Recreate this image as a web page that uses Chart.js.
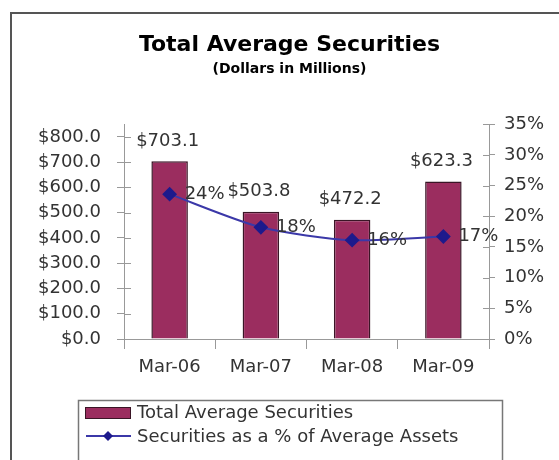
<!DOCTYPE html>
<html>
<head>
<meta charset="utf-8">
<script src="https://cdn.jsdelivr.net/npm/chart.js@4.4.1/dist/chart.umd.min.js"></script>
<style>
  html, body { margin: 0; padding: 0; background: #fff; overflow: hidden; }
  #wrap { position: relative; width: 559px; height: 460px; }
  #frame { position: absolute; left: 10px; top: 12px; width: 620px; height: 520px; border: 2px solid #555; }
  #chart { position: absolute; left: 0; top: 0; }
</style>
</head>
<body>
<div id="wrap">
  <div id="frame"></div>
  <canvas id="chart" width="559" height="460"></canvas>
</div>
<script>
// data
const categories = ['Mar-06', 'Mar-07', 'Mar-08', 'Mar-09'];
const securities = [703.1, 503.8, 472.2, 623.3];      // $ millions
const pctOfAssets = [23.6, 18.2, 16.1, 16.7];         // % of average assets
const dollarTicks = [0, 100, 200, 300, 400, 500, 600, 700, 800];
const pctTicks = [0, 5, 10, 15, 20, 25, 30, 35];

const FONT = '"DejaVu Sans", "Liberation Sans", Arial, sans-serif';
const TEXT = '#333';
const AXIS = '#999';
const BAR_FILL = '#9b2d5f';
const BAR_EDGE = '#3a1526';
const LINE = '#3b38a8';
const MARKER = '#1d1a8c';

// small tick marks crossing into the plot + value labels
const valueLabels = {
  id: 'valueLabels',
  afterDatasetsDraw(chart) {
    const ctx = chart.ctx;
    const { left, right } = chart.chartArea;
    ctx.save();
    ctx.strokeStyle = AXIS;
    ctx.lineWidth = 1;
    chart.scales.y.ticks.forEach(t => {
      const y = Math.round(chart.scales.y.getPixelForValue(t.value)) + 0.5;
      ctx.beginPath(); ctx.moveTo(left, y); ctx.lineTo(left + 7, y); ctx.stroke();
    });
    chart.scales.y1.ticks.forEach(t => {
      const y = Math.round(chart.scales.y1.getPixelForValue(t.value)) + 0.5;
      ctx.beginPath(); ctx.moveTo(right - 6, y); ctx.lineTo(right, y); ctx.stroke();
    });

    ctx.font = '18px ' + FONT;
    ctx.fillStyle = TEXT;
    ctx.textBaseline = 'middle';
    ctx.textAlign = 'center';
    chart.getDatasetMeta(1).data.forEach((bar, i) => {
      ctx.fillText('$' + securities[i].toFixed(1), bar.x - 2, bar.y - 20);
    });
    ctx.textAlign = 'left';
    chart.getDatasetMeta(0).data.forEach((pt, i) => {
      ctx.fillText(Math.round(pctOfAssets[i]) + '%', pt.x + 15, pt.y);
    });
    ctx.restore();
  }
};

// boxed legend at the bottom, like the spreadsheet one
const boxLegend = {
  id: 'boxLegend',
  afterDraw(chart) {
    const ctx = chart.ctx;
    const lineDs = chart.data.datasets[0];
    const barDs = chart.data.datasets[1];
    ctx.save();
    ctx.strokeStyle = '#777';
    ctx.lineWidth = 1.5;
    ctx.strokeRect(78.5, 400.5, 424, 80);

    ctx.fillStyle = barDs.backgroundColor;
    ctx.fillRect(85, 407, 45, 11);
    ctx.strokeStyle = barDs.borderColor;
    ctx.lineWidth = 1;
    ctx.strokeRect(85.5, 407.5, 45, 11);

    ctx.strokeStyle = lineDs.borderColor;
    ctx.lineWidth = 2;
    ctx.beginPath(); ctx.moveTo(86, 436); ctx.lineTo(131, 436); ctx.stroke();
    ctx.fillStyle = lineDs.pointBackgroundColor;
    ctx.beginPath();
    ctx.moveTo(108, 431); ctx.lineTo(113, 436); ctx.lineTo(108, 441); ctx.lineTo(103, 436);
    ctx.closePath(); ctx.fill();

    ctx.font = '18px ' + FONT;
    ctx.fillStyle = TEXT;
    ctx.textAlign = 'left';
    ctx.textBaseline = 'middle';
    ctx.fillText(barDs.label, 137, 413);
    ctx.fillText(lineDs.label, 137, 437);
    ctx.restore();
  }
};

new Chart(document.getElementById('chart'), {
  data: {
    labels: categories,
    datasets: [
      {
        type: 'line',
        label: 'Securities as a % of Average Assets',
        data: pctOfAssets,
        yAxisID: 'y1',
        order: 0,
        borderColor: LINE,
        borderWidth: 2,
        tension: 0.25,
        pointStyle: 'rectRot',
        pointRadius: 6,
        pointBackgroundColor: MARKER,
        pointBorderColor: MARKER,
      },
      {
        type: 'bar',
        label: 'Total Average Securities',
        data: securities,
        yAxisID: 'y',
        order: 1,
        backgroundColor: BAR_FILL,
        borderColor: BAR_EDGE,
        borderWidth: 1.5,
        categoryPercentage: 1,
        barPercentage: 0.4,
      },
    ],
  },
  options: {
    responsive: false,
    animation: false,
    devicePixelRatio: 1,
    layout: { padding: { left: 20, right: 0, top: 0, bottom: 0 } },
    plugins: {
      legend: { display: false },
      tooltip: { enabled: false },
      title: {
        display: true,
        text: 'Total Average Securities',
        color: '#000',
        font: { family: FONT, size: 22, weight: 'bold' },
        padding: { top: 32, bottom: 3 },
      },
      subtitle: {
        display: true,
        text: '(Dollars in Millions)',
        color: '#000',
        font: { family: FONT, size: 14, weight: 'bold' },
        padding: { top: 0, bottom: 46 },
      },
    },
    scales: {
      x: {
        offset: true,
        grid: { offset: true, drawOnChartArea: false, color: AXIS, tickLength: 10 },
        border: { color: AXIS },
        ticks: { color: TEXT, font: { family: FONT, size: 18 }, padding: 8 },
        afterFit(scale) { scale.height = 121; },
      },
      y: {
        position: 'left',
        min: 0,
        max: 850,
        grid: { drawOnChartArea: false, color: AXIS, tickLength: 7 },
        border: { color: AXIS },
        ticks: {
          color: TEXT,
          font: { family: FONT, size: 18 },
          padding: 16,
          callback: v => '$' + v.toFixed(1),
        },
        afterBuildTicks(axis) { axis.ticks = dollarTicks.map(v => ({ value: v })); },
        afterFit(scale) { scale.width = 104; },
      },
      y1: {
        position: 'right',
        min: 0,
        max: 35,
        grid: { drawOnChartArea: false, color: AXIS, tickLength: 6 },
        border: { color: AXIS },
        ticks: {
          color: TEXT,
          font: { family: FONT, size: 18 },
          padding: 9,
          callback: v => v + '%',
        },
        afterBuildTicks(axis) { axis.ticks = pctTicks.map(v => ({ value: v })); },
        afterFit(scale) { scale.width = 70; },
      },
    },
  },
  plugins: [valueLabels, boxLegend],
});
</script>
</body>
</html>
